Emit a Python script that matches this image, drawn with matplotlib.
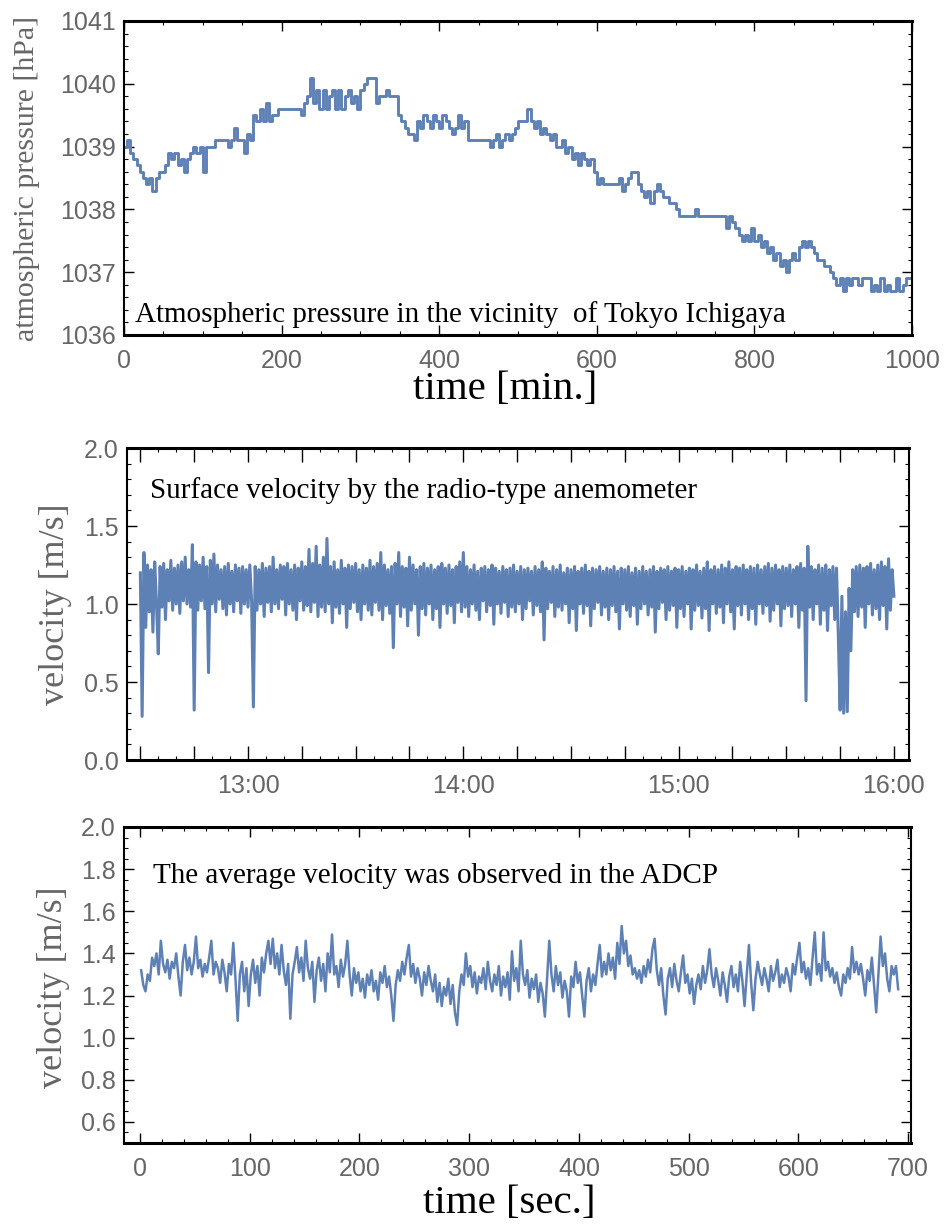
import numpy as np
import matplotlib
matplotlib.use('Agg')
import matplotlib.pyplot as plt
from matplotlib.ticker import MultipleLocator, FuncFormatter

# --- top panel: atmospheric pressure, one reading every 4 min ---
t_step_top = 4
pressure = [
    1039.0, 1039.1, 1038.9, 1038.8, 1038.7, 1038.6, 1038.5, 1038.4, 1038.5, 1038.3,
    1038.5, 1038.6, 1038.6, 1038.7, 1038.9, 1038.8, 1038.9, 1038.7, 1038.8, 1038.6,
    1038.8, 1038.9, 1039.0, 1038.9, 1039.0, 1038.6, 1039.0, 1039.0, 1039.0, 1039.1,
    1039.1, 1039.1, 1039.1, 1039.0, 1039.1, 1039.3, 1039.1, 1039.1, 1038.9, 1039.2,
    1039.1, 1039.5, 1039.4, 1039.6, 1039.4, 1039.7, 1039.4, 1039.5, 1039.5, 1039.6,
    1039.6, 1039.6, 1039.6, 1039.6, 1039.6, 1039.6, 1039.5, 1039.7, 1039.8, 1040.1,
    1039.7, 1039.9, 1039.6, 1039.9, 1039.6, 1039.8, 1039.9, 1039.6, 1039.9, 1039.6,
    1039.8, 1039.9, 1039.7, 1039.8, 1039.6, 1039.9, 1040.0, 1040.1, 1040.1, 1040.1,
    1039.7, 1039.8, 1039.8, 1039.9, 1039.8, 1039.8, 1039.8, 1039.5, 1039.4, 1039.3,
    1039.2, 1039.2, 1039.1, 1039.4, 1039.3, 1039.5, 1039.4, 1039.3, 1039.5, 1039.4,
    1039.3, 1039.5, 1039.4, 1039.3, 1039.2, 1039.3, 1039.5, 1039.3, 1039.4, 1039.1,
    1039.1, 1039.1, 1039.1, 1039.1, 1039.1, 1039.1, 1039.0, 1039.1, 1039.2, 1039.0,
    1039.1, 1039.2, 1039.1, 1039.2, 1039.3, 1039.4, 1039.4, 1039.4, 1039.6, 1039.4,
    1039.3, 1039.4, 1039.2, 1039.3, 1039.2, 1039.1, 1039.2, 1039.0, 1039.0, 1039.1,
    1038.9, 1039.0, 1038.8, 1038.9, 1038.7, 1038.9, 1038.8, 1038.7, 1038.8, 1038.6,
    1038.4, 1038.5, 1038.4, 1038.4, 1038.4, 1038.4, 1038.4, 1038.5, 1038.3, 1038.4,
    1038.5, 1038.6, 1038.6, 1038.4, 1038.3, 1038.2, 1038.3, 1038.1, 1038.3, 1038.4,
    1038.3, 1038.2, 1038.2, 1038.1, 1038.1, 1038.0, 1037.9, 1037.9, 1037.9, 1037.9,
    1037.9, 1038.0, 1037.9, 1037.9, 1037.9, 1037.9, 1037.9, 1037.9, 1037.9, 1037.9,
    1037.9, 1037.7, 1037.9, 1037.8, 1037.7, 1037.6, 1037.5, 1037.6, 1037.5, 1037.7,
    1037.5, 1037.6, 1037.4, 1037.5, 1037.3, 1037.4, 1037.2, 1037.3, 1037.1, 1037.2,
    1037.0, 1037.2, 1037.3, 1037.2, 1037.4, 1037.5, 1037.4, 1037.5, 1037.4, 1037.3,
    1037.2, 1037.2, 1037.1, 1037.1, 1037.0, 1036.9, 1036.8, 1036.9, 1036.7, 1036.9,
    1036.8, 1036.9, 1036.9, 1036.8, 1036.9, 1036.9, 1036.9, 1036.7, 1036.8, 1036.7,
    1036.9, 1036.7, 1036.8, 1036.7, 1036.7, 1036.9, 1036.7, 1036.8, 1036.9, 1036.9,
    1036.9,
]

# --- middle panel: surface velocity, one reading every 30 s from 12:30 ---
mid_start_h = 12.5
mid_step_h = 1 / 120
vel_surface = [
    1.20, 0.28, 1.33, 0.85, 1.25, 0.95, 1.22, 0.82, 1.27, 1.00, 0.68, 1.24, 0.98, 1.26, 0.90, 1.22, 1.02, 1.28, 0.96, 1.23,
    1.00, 1.25, 0.94, 1.27, 1.02, 1.30, 1.00, 1.22, 0.98, 1.38, 0.32, 1.27, 0.96, 1.25, 1.02, 1.30, 0.97, 1.24, 0.56, 1.28,
    1.00, 1.32, 0.95, 1.25, 1.03, 1.22, 0.97, 1.24, 0.93, 1.26, 1.00, 1.21, 0.95, 1.25, 1.02, 1.23, 0.94, 1.24, 1.00, 1.22,
    0.98, 1.25, 1.02, 0.34, 1.24, 0.96, 1.22, 1.00, 1.26, 0.92, 1.23, 1.01, 1.24, 0.95, 1.30, 1.00, 1.22, 0.97, 1.25, 1.03,
    1.24, 0.93, 1.26, 1.00, 1.22, 0.96, 1.25, 0.90, 1.23, 1.02, 1.27, 0.96, 1.24, 0.99, 1.35, 0.95, 1.26, 1.01, 1.37, 0.92,
    1.25, 0.98, 1.30, 0.95, 1.42, 1.00, 1.24, 0.88, 1.27, 0.98, 1.22, 0.94, 1.28, 1.00, 1.23, 0.85, 1.25, 0.97, 1.24, 1.01,
    1.26, 0.95, 1.22, 0.90, 1.25, 1.00, 1.23, 0.96, 1.28, 0.93, 1.24, 1.01, 1.26, 0.96, 1.33, 0.90, 1.25, 0.99, 1.22, 0.94,
    1.24, 0.72, 1.26, 1.00, 1.33, 0.92, 1.24, 0.98, 1.23, 0.86, 1.30, 0.96, 1.25, 1.00, 1.22, 0.80, 1.24, 0.97, 1.26, 0.93,
    1.23, 1.00, 1.25, 0.90, 1.22, 0.97, 1.24, 0.85, 1.26, 1.00, 1.23, 0.94, 1.25, 0.99, 1.22, 0.88, 1.24, 1.01, 1.27, 0.95,
    1.33, 0.98, 1.24, 0.92, 1.22, 1.00, 1.25, 0.96, 1.21, 0.90, 1.23, 1.02, 1.24, 0.95, 1.22, 0.99, 1.25, 0.87, 1.23, 1.00,
    1.21, 0.94, 1.24, 1.01, 1.22, 0.92, 1.23, 0.98, 1.25, 0.95, 1.21, 1.00, 1.24, 0.90, 1.22, 0.97, 1.23, 1.02, 1.21, 0.93,
    1.24, 0.99, 1.22, 0.95, 1.27, 0.77, 1.23, 0.97, 1.21, 1.01, 1.24, 0.92, 1.22, 0.98, 1.25, 0.96, 1.20, 1.00, 1.23, 0.88,
    1.22, 0.97, 1.24, 0.83, 1.21, 1.00, 1.23, 0.94, 1.25, 0.99, 1.21, 0.86, 1.23, 0.97, 1.22, 1.01, 1.24, 0.93, 1.21, 0.98,
    1.23, 0.90, 1.22, 0.99, 1.24, 0.95, 1.21, 0.84, 1.23, 1.00, 1.22, 0.96, 1.24, 0.92, 1.20, 0.99, 1.23, 0.87, 1.21, 0.97,
    1.24, 1.00, 1.21, 0.93, 1.22, 0.98, 1.24, 0.82, 1.21, 0.97, 1.23, 1.01, 1.22, 0.90, 1.24, 0.96, 1.21, 0.99, 1.23, 0.85,
    1.22, 0.97, 1.24, 0.92, 1.21, 1.00, 1.23, 0.84, 1.22, 0.96, 1.25, 0.99, 1.21, 0.91, 1.23, 0.97, 1.27, 0.83, 1.22, 1.00,
    1.24, 0.94, 1.22, 0.98, 1.25, 0.88, 1.23, 1.00, 1.27, 0.95, 1.22, 0.84, 1.24, 0.99, 1.23, 0.93, 1.25, 1.00, 1.22, 0.90,
    1.24, 0.97, 1.23, 0.87, 1.25, 1.00, 1.22, 0.94, 1.24, 0.99, 1.26, 0.89, 1.23, 0.96, 1.25, 1.00, 1.22, 0.86, 1.24, 0.97,
    1.23, 0.99, 1.25, 0.92, 1.22, 1.00, 1.24, 0.85, 1.26, 0.96, 1.23, 0.38, 1.37, 0.98, 1.24, 0.90, 1.22, 1.00, 1.25, 0.87,
    1.23, 0.96, 1.25, 0.83, 1.22, 0.99, 1.24, 0.90, 1.23, 0.80, 0.32, 1.05, 0.30, 0.95, 0.31, 1.10, 0.70, 1.22, 0.95, 1.24,
    0.92, 1.25, 0.98, 1.23, 0.85, 1.24, 1.00, 1.26, 0.93, 1.22, 0.97, 1.25, 0.90, 1.27, 0.99, 1.24, 0.84, 1.29, 0.96, 1.22,
    1.05,
]

# --- bottom panel: ADCP average velocity, one reading every 2 s from t=1 ---
bot_start_s = 1
bot_step_s = 2
vel_adcp = [
    1.32, 1.25, 1.22, 1.30, 1.27, 1.38, 1.34, 1.40, 1.30, 1.46, 1.35, 1.31, 1.37, 1.28, 1.36, 1.33, 1.40, 1.29, 1.20, 1.36,
    1.44, 1.32, 1.38, 1.30, 1.36, 1.48, 1.33, 1.37, 1.29, 1.35, 1.31, 1.38, 1.46, 1.30, 1.36, 1.33, 1.26, 1.37, 1.31, 1.22,
    1.35, 1.30, 1.45, 1.28, 1.08, 1.30, 1.36, 1.22, 1.33, 1.15, 1.30, 1.37, 1.26, 1.34, 1.20, 1.38, 1.31, 1.40, 1.46, 1.35,
    1.47, 1.33, 1.40, 1.30, 1.44, 1.32, 1.25, 1.35, 1.09, 1.30, 1.36, 1.43, 1.31, 1.38, 1.27, 1.46, 1.33, 1.28, 1.36, 1.17,
    1.32, 1.38, 1.27, 1.35, 1.22, 1.40, 1.31, 1.49, 1.30, 1.34, 1.24, 1.37, 1.29, 1.35, 1.46, 1.30, 1.20, 1.33, 1.26, 1.31,
    1.22, 1.28, 1.19, 1.30, 1.25, 1.32, 1.22, 1.27, 1.18, 1.31, 1.26, 1.34, 1.24, 1.29, 1.20, 1.08, 1.25, 1.32, 1.27, 1.36,
    1.30, 1.38, 1.44, 1.29, 1.35, 1.26, 1.33, 1.28, 1.20, 1.31, 1.25, 1.34, 1.27, 1.22, 1.30, 1.17, 1.26, 1.15, 1.24, 1.20,
    1.28, 1.16, 1.25, 1.12, 1.06, 1.22, 1.30, 1.25, 1.40, 1.29, 1.34, 1.24, 1.31, 1.21, 1.29, 1.26, 1.33, 1.23, 1.36, 1.27,
    1.22, 1.30, 1.25, 1.34, 1.20, 1.29, 1.24, 1.31, 1.18, 1.41, 1.27, 1.33, 1.22, 1.46, 1.30, 1.25, 1.32, 1.19, 1.28, 1.23,
    1.30, 1.17, 1.26, 1.21, 1.10, 1.28, 1.46, 1.30, 1.22, 1.34, 1.25, 1.31, 1.19, 1.27, 1.22, 1.10, 1.29, 1.24, 1.36, 1.26,
    1.31, 1.20, 1.10, 1.27, 1.33, 1.22, 1.30, 1.25, 1.35, 1.44, 1.29, 1.36, 1.30, 1.40, 1.32, 1.38, 1.28, 1.45, 1.35, 1.53,
    1.40, 1.46, 1.34, 1.39, 1.30, 1.33, 1.28, 1.32, 1.26, 1.34, 1.29, 1.37, 1.31, 1.42, 1.47, 1.32, 1.25, 1.33, 1.20, 1.11,
    1.28, 1.33, 1.24, 1.35, 1.27, 1.22, 1.31, 1.39, 1.26, 1.30, 1.21, 1.28, 1.16, 1.25, 1.30, 1.23, 1.34, 1.26, 1.32, 1.42,
    1.30, 1.24, 1.33, 1.27, 1.20, 1.31, 1.25, 1.17, 1.29, 1.34, 1.24, 1.30, 1.22, 1.36, 1.27, 1.15, 1.30, 1.44, 1.26, 1.13,
    1.28, 1.36, 1.30, 1.25, 1.33, 1.28, 1.22, 1.34, 1.27, 1.31, 1.37, 1.24, 1.30, 1.26, 1.33, 1.29, 1.22, 1.35, 1.30, 1.38,
    1.45, 1.31, 1.36, 1.28, 1.33, 1.25, 1.38, 1.50, 1.30, 1.35, 1.27, 1.50, 1.32, 1.36, 1.29, 1.33, 1.26, 1.31, 1.24, 1.20,
    1.30, 1.26, 1.33, 1.28, 1.43, 1.31, 1.36, 1.30, 1.35, 1.28, 1.20, 1.32, 1.27, 1.38, 1.25, 1.12, 1.30, 1.48, 1.34, 1.40,
    1.28, 1.22, 1.34, 1.30, 1.34, 1.23,
]

hour_labels = ['13:00', '14:00', '15:00', '16:00']

t_top = np.arange(len(pressure)) * t_step_top
t_mid = mid_start_h + np.arange(len(vel_surface)) * mid_step_h
t_bot = bot_start_s + np.arange(len(vel_adcp)) * bot_step_s

blue = '#5E81B5'
gray = '#666666'
W, H = 946, 1228
sans = ['Liberation Sans', 'DejaVu Sans']
serif = ['Liberation Serif', 'DejaVu Serif']

fig = plt.figure(figsize=(W / 100, H / 100), dpi=100)


def box(l, t, r, b):
    return [l / W, 1 - b / H, (r - l) / W, (b - t) / H]


def style(ax):
    for k, s in ax.spines.items():
        s.set_linewidth(2.2 if k in ('top', 'bottom') else 1.5)
        s.set_color('black')
    ax.tick_params(which='both', direction='in', top=True, right=True,
                   colors='black', labelcolor=gray)
    ax.tick_params(which='major', length=7, width=1.0, labelsize=18)
    ax.tick_params(which='minor', length=3, width=0.8)
    ax.tick_params(axis='x', pad=10)
    ax.tick_params(axis='y', pad=6)
    for lab in ax.get_xticklabels() + ax.get_yticklabels():
        lab.set_family(sans)


# top
ax1 = fig.add_axes(box(124, 21, 912, 335))
ax1.plot(t_top, pressure, color=blue, lw=2.1, drawstyle='steps-post')
ax1.set_xlim(0, 1000)
ax1.set_ylim(1036, 1041)
ax1.xaxis.set_major_locator(MultipleLocator(200))
ax1.xaxis.set_minor_locator(MultipleLocator(50))
ax1.yaxis.set_major_locator(MultipleLocator(1))
ax1.yaxis.set_minor_locator(MultipleLocator(0.2))
style(ax1)
ax1.text(14, 1036.21, 'Atmospheric pressure in the vicinity  of Tokyo Ichigaya',
         family=serif, fontsize=21, color='black', va='baseline')

# middle
ax2 = fig.add_axes(box(127, 448, 909, 760))
ax2.plot(t_mid, vel_surface, color=blue, lw=2.2)
ax2.set_xlim(12.438, 16.07)
ax2.set_ylim(0, 2.0)
ax2.xaxis.set_major_locator(MultipleLocator(0.25))
ax2.xaxis.set_minor_locator(MultipleLocator(1 / 12))
ax2.xaxis.set_major_formatter(FuncFormatter(
    lambda v, p: hour_labels[int(round(v)) - 13] if abs(v - round(v)) < 1e-6 and 13 <= round(v) <= 16 else ''))
ax2.yaxis.set_major_locator(MultipleLocator(0.5))
ax2.yaxis.set_minor_locator(MultipleLocator(0.1))
ax2.yaxis.set_major_formatter(FuncFormatter(lambda v, p: '%.1f' % v))
style(ax2)
ax2.tick_params(axis='x', which='major', length=10)
ax2.text(12.545, 1.68, 'Surface velocity by the radio-type anemometer',
         family=serif, fontsize=21, color='black', va='baseline')

# bottom
ax3 = fig.add_axes(box(124, 827, 911, 1143))
ax3.plot(t_bot, vel_adcp, color=blue, lw=1.8)
ax3.set_xlim(-14.6, 702.7)
ax3.set_ylim(0.5, 2.0)
ax3.xaxis.set_major_locator(MultipleLocator(100))
ax3.xaxis.set_minor_locator(MultipleLocator(20))
ax3.set_yticks([0.6, 0.8, 1.0, 1.2, 1.4, 1.6, 1.8, 2.0])
ax3.yaxis.set_minor_locator(MultipleLocator(0.05))
ax3.yaxis.set_major_formatter(FuncFormatter(lambda v, p: '%.1f' % v))
style(ax3)
ax3.text(11.8, 1.734, 'The average velocity was observed in the ADCP',
         family=serif, fontsize=21, color='black', va='baseline')

# axis titles
fig.text(27 / W, 1 - 178 / H, 'atmospheric pressure [hPa]', rotation=90,
         family=serif, fontsize=21.5, color=gray, ha='center', va='center')
fig.text(505 / W, 1 - 390 / H, 'time [min.]', family=serif, fontsize=29.5,
         color='black', ha='center', va='center')
fig.text(56 / W, 1 - 604 / H, 'velocity [m/s]', rotation=90,
         family=serif, fontsize=26, color=gray, ha='center', va='center')
fig.text(53 / W, 1 - 987 / H, 'velocity [m/s]', rotation=90,
         family=serif, fontsize=26, color=gray, ha='center', va='center')
fig.text(509 / W, 1 - 1203 / H, 'time [sec.]', family=serif, fontsize=29.5,
         color='black', ha='center', va='center')

fig.savefig('out.png', dpi=100)
